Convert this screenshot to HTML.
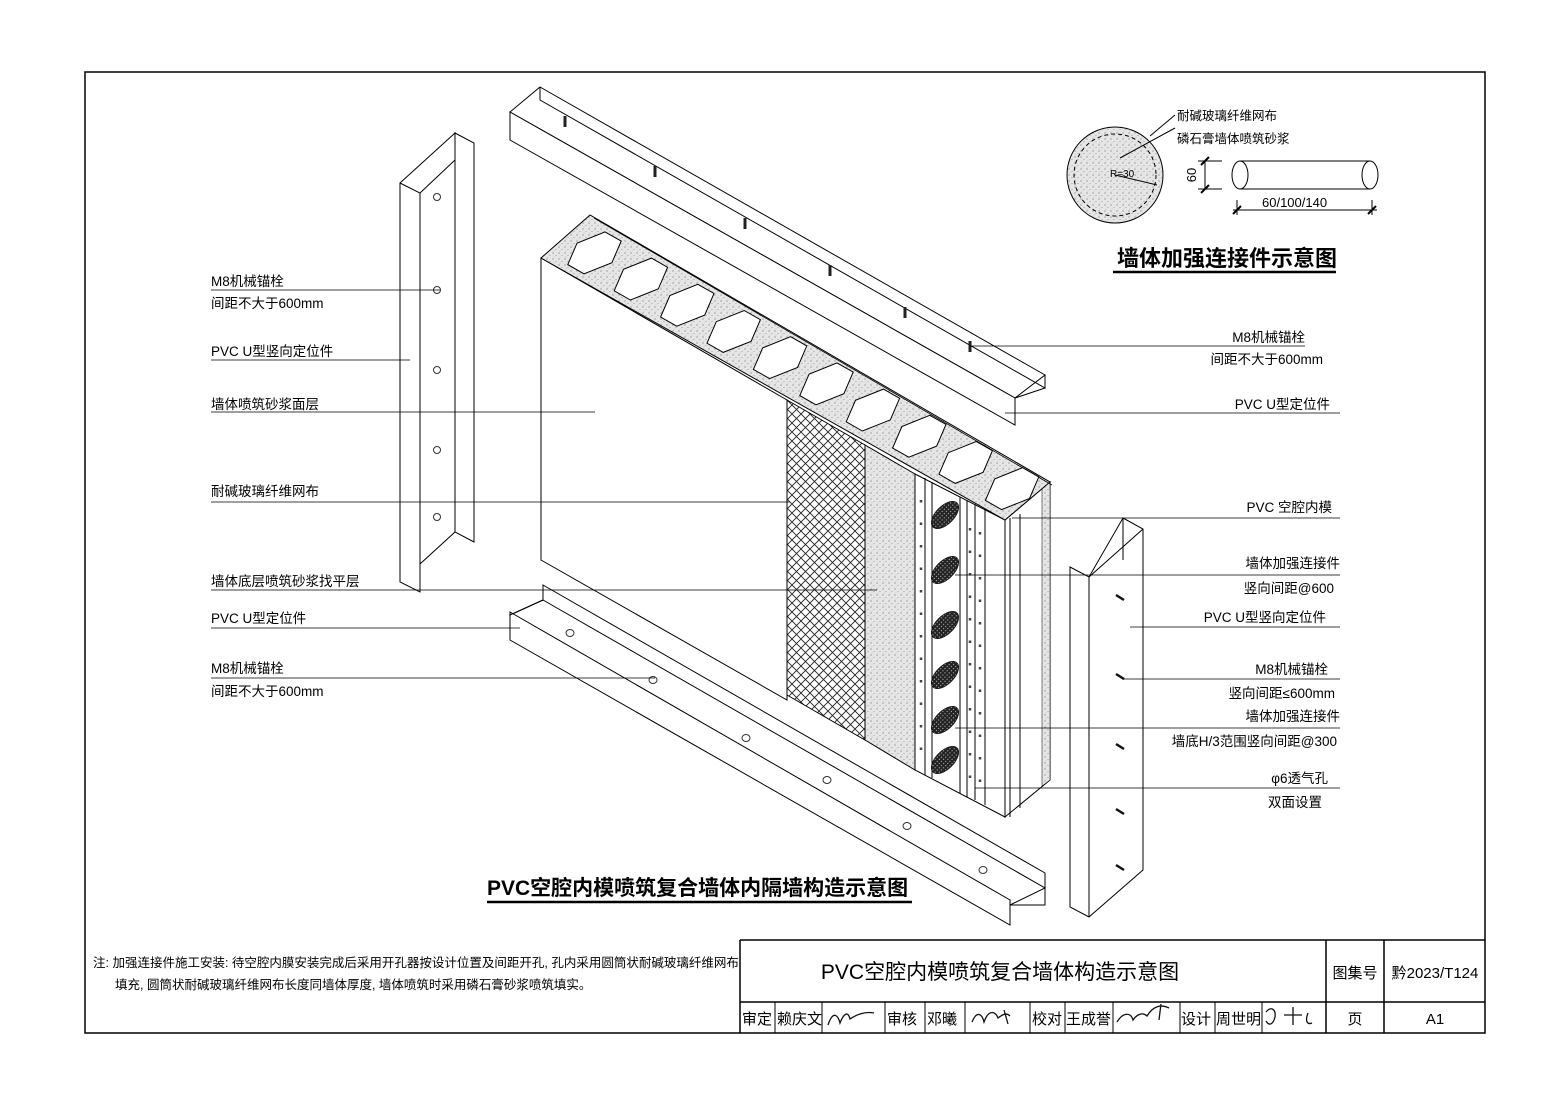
<!DOCTYPE html>
<html><head><meta charset="utf-8"><style>
html,body{margin:0;padding:0;background:#fff;}
svg{display:block;}
text{font-family:"Liberation Sans","Noto Sans CJK SC",sans-serif;fill:#000;}
</style></head><body>
<svg width="1541" height="1096" viewBox="0 0 1541 1096" xmlns="http://www.w3.org/2000/svg">
<defs>
<pattern id="spk" width="6" height="6" patternUnits="userSpaceOnUse">
<rect width="6" height="6" fill="#e6e6e6"/><circle cx="1" cy="1" r="0.6" fill="#777"/><circle cx="4" cy="3.5" r="0.5" fill="#888"/><circle cx="2" cy="5" r="0.4" fill="#999"/>
</pattern>
<pattern id="mesh" width="9" height="9" patternUnits="userSpaceOnUse">
<rect width="9" height="9" fill="#fff"/><path d="M0 0L9 9M9 0L0 9" stroke="#222" stroke-width="0.9"/>
</pattern>
<pattern id="coil" width="3" height="3" patternUnits="userSpaceOnUse">
<rect width="3" height="3" fill="#222"/><circle cx="1.5" cy="1.5" r="0.6" fill="#bbb"/>
</pattern>
</defs>
<g fill="none" stroke="#000" stroke-width="1">
<rect x="85" y="72" width="1400" height="961" stroke-width="1.5"/>
<path d="M740 940H1485M740 940V1033M740 1002H1485M1326 940V1033M1384 940V1033" stroke-width="1.5"/>
<path d="M775 1002V1033M822 1002V1033M885 1002V1033M925 1002V1033M965 1002V1033M1030 1002V1033M1065 1002V1033M1113 1002V1033M1180 1002V1033M1215 1002V1033M1262 1002V1033"/>
</g>

<!-- top U bar -->
<g fill="#fff" stroke="#000" stroke-width="1">
<polygon points="540,87 1045,375 1015,398 510,112"/>
<polygon points="510,112 1015,398 1015,425 510,140"/>
<path d="M540,87 L540,100 L1045,388 L1045,375" fill="none"/>
<path d="M1015,398 L1045,388" fill="none"/>
</g>
<g stroke="#222" stroke-width="3">
<path d="M565,116v11M655,166v11M745,218v11M830,265v11M905,307v11M970,341v11"/>
</g>

<!-- left vertical U -->
<g fill="#fff" stroke="#000" stroke-width="1">
<polygon points="455,133 474,143 474,542 455,532"/>
<polygon points="400,183 455,133 455,532 420,564 420,592 400,582"/>
<path d="M400,183 L420,193 L420,592 M420,193 L455,160" fill="none"/>
</g>
<g fill="#fff" stroke="#333" stroke-width="1">
<circle cx="437" cy="197" r="3.5"/><circle cx="437" cy="290" r="3.5"/><circle cx="437" cy="370" r="3.5"/><circle cx="437" cy="450" r="3.5"/><circle cx="437" cy="517" r="3.5"/>
</g>

<!-- wall -->
<g stroke="#000" stroke-width="1">
<polygon points="541,258 787,400 787,700 541,560" fill="#fff"/>
<polygon points="787,400 865,445 865,740 787,695" fill="url(#mesh)"/>
<polygon points="865,445 915,474 915,770 865,740" fill="url(#spk)"/>
<polygon points="915,474 1005,520 1005,817 915,770" fill="#fff"/>
<polygon points="1005,520 1050,482 1050,780 1005,817" fill="#fff"/>
<polygon points="1042,488 1050,482 1050,780 1042,786" fill="url(#spk)" stroke-width="0.5"/>
<polygon points="541,258 590,215 1050,482 1005,520" fill="url(#spk)"/>
<path d="M594,218 L1052,485" fill="none" stroke-width="0.8"/>
</g>
<g fill="#fff" stroke="#000" stroke-width="1">
<polygon id="c0" points="567.8,264.6 577.1,243.1 605,231.9 621.2,241.1 611.9,262.7 584,273.8"/>
<polygon points="567.8,264.6 577.1,243.1 605,231.9 621.2,241.1 611.9,262.7 584,273.8" transform="translate(46.4,26.2)"/>
<polygon points="567.8,264.6 577.1,243.1 605,231.9 621.2,241.1 611.9,262.7 584,273.8" transform="translate(92.8,52.4)"/>
<polygon points="567.8,264.6 577.1,243.1 605,231.9 621.2,241.1 611.9,262.7 584,273.8" transform="translate(139.2,78.6)"/>
<polygon points="567.8,264.6 577.1,243.1 605,231.9 621.2,241.1 611.9,262.7 584,273.8" transform="translate(185.6,104.8)"/>
<polygon points="567.8,264.6 577.1,243.1 605,231.9 621.2,241.1 611.9,262.7 584,273.8" transform="translate(232,131)"/>
<polygon points="567.8,264.6 577.1,243.1 605,231.9 621.2,241.1 611.9,262.7 584,273.8" transform="translate(278.4,157.2)"/>
<polygon points="567.8,264.6 577.1,243.1 605,231.9 621.2,241.1 611.9,262.7 584,273.8" transform="translate(324.8,183.4)"/>
<polygon points="567.8,264.6 577.1,243.1 605,231.9 621.2,241.1 611.9,262.7 584,273.8" transform="translate(371.2,209.6)"/>
<polygon points="567.8,264.6 577.1,243.1 605,231.9 621.2,241.1 611.9,262.7 584,273.8" transform="translate(417.6,235.8)"/>
</g>
<g fill="none" stroke="#000" stroke-width="1">
<path d="M925,478V775M932,482V778M960,497V793M967,500V797M975,504V800M985,509V805M1010,518V817M1020,514V808"/>
</g>
<g fill="none" stroke="#444" stroke-width="2.5" stroke-dasharray="2.5 20">
<path d="M921,500V770M970,528V795M980,532V800"/>
</g>
<g fill="url(#coil)" stroke="#111" stroke-width="0.8">
<ellipse cx="945" cy="515" rx="9" ry="17" transform="rotate(45 945 515)"/>
<ellipse cx="945" cy="570" rx="9" ry="17" transform="rotate(45 945 570)"/>
<ellipse cx="945" cy="625" rx="9" ry="17" transform="rotate(45 945 625)"/>
<ellipse cx="945" cy="675" rx="9" ry="17" transform="rotate(45 945 675)"/>
<ellipse cx="945" cy="720" rx="9" ry="17" transform="rotate(45 945 720)"/>
<ellipse cx="945" cy="760" rx="9" ry="17" transform="rotate(45 945 760)"/>
</g>

<!-- bottom U bar -->
<g fill="#fff" stroke="#000" stroke-width="1">
<polygon points="543,585 1045,873 1045,905 1010,905 510,615 543,600"/>
<polygon points="510,612 1010,900 1010,925 510,640"/>
<path d="M543,585 L543,600 L510,615 M543,600 L1045,888 L1010,905" fill="none"/>
</g>
<g fill="#fff" stroke="#333" stroke-width="1">
<ellipse cx="570" cy="633" rx="4" ry="3.5"/><ellipse cx="653" cy="680" rx="4" ry="3.5"/><ellipse cx="746" cy="738" rx="4" ry="3.5"/><ellipse cx="827" cy="780" rx="4" ry="3.5"/><ellipse cx="907" cy="826" rx="4" ry="3.5"/><ellipse cx="983" cy="870" rx="4" ry="3.5"/>
</g>

<!-- right vertical U -->
<g fill="#fff" stroke="#000" stroke-width="1">
<polygon points="1123,518 1143,529 1143,870 1089,917 1070,907 1070,567 1089,577"/>
<path d="M1089,577 L1089,917 M1089,577 L1143,529 M1123,518 L1123,560" fill="none"/>
</g>
<g stroke="#111" stroke-width="2.5">
<path d="M1116,595l8,5M1116,674l8,5M1116,744l8,5M1116,809l8,5M1116,865l8,5"/>
</g>

<!-- leader lines -->
<g stroke="#000" stroke-width="0.8" fill="none">
<path d="M211,290H440M211,360H410M211,412H595M211,502H790M211,590H877M211,628H520M211,678H655"/>
<path d="M970,346H1305M1005,413H1340M1012,518H1340M955,575H1340M1130,627H1340M1122,679H1340M955,728H1340M975,788H1340"/>
<path d="M1113,272H1336M487,902H912" stroke-width="2.5"/>
</g>

<!-- detail -->
<g fill="none" stroke="#000" stroke-width="1">
<circle cx="1115" cy="175" r="48" fill="url(#spk)"/>
<circle cx="1115" cy="175" r="41" stroke-dasharray="4 3"/>
<path d="M1115,175 L1157,185M1120,158L1175,128M1150,136L1175,115"/>
<path d="M1240,161H1370M1240,189H1370"/>
<ellipse cx="1240" cy="175" rx="8" ry="14"/><ellipse cx="1370" cy="175" rx="8" ry="14"/>
<path d="M1205,161V189M1198,161H1222M1198,189H1222M1233,210H1377M1237,200V215M1372,200V215"/>
<path d="M1201,165l8,-8M1201,193l8,-8M1233,214l8,-8M1368,214l8,-8" stroke-width="2"/>
</g>

<!-- text -->
<g font-size="13.5">
<text x="211" y="286">M8机械锚栓</text>
<text x="211" y="308">间距不大于600mm</text>
<text x="211" y="356">PVC U型竖向定位件</text>
<text x="211" y="409">墙体喷筑砂浆面层</text>
<text x="211" y="496">耐碱玻璃纤维网布</text>
<text x="211" y="586">墙体底层喷筑砂浆找平层</text>
<text x="211" y="623">PVC U型定位件</text>
<text x="211" y="673">M8机械锚栓</text>
<text x="211" y="696">间距不大于600mm</text>
</g>
<g font-size="13.5" text-anchor="end">
<text x="1305" y="342">M8机械锚栓</text>
<text x="1323" y="364">间距不大于600mm</text>
<text x="1330" y="409">PVC U型定位件</text>
<text x="1332" y="512">PVC 空腔内模</text>
<text x="1340" y="568">墙体加强连接件</text>
<text x="1334" y="593">竖向间距@600</text>
<text x="1326" y="622">PVC U型竖向定位件</text>
<text x="1328" y="674">M8机械锚栓</text>
<text x="1335" y="698">竖向间距≤600mm</text>
<text x="1340" y="721">墙体加强连接件</text>
<text x="1337" y="746">墙底H/3范围竖向间距@300</text>
<text x="1328" y="783">φ6透气孔</text>
<text x="1322" y="807">双面设置</text>
</g>
<g font-size="12.5">
<text x="1177" y="120">耐碱玻璃纤维网布</text>
<text x="1177" y="143">磷石膏墙体喷筑砂浆</text>
<text x="1110" y="177" font-size="10">R=30</text>
<text x="1262" y="207" font-size="13">60/100/140</text>
<text x="1196" y="175" font-size="13" transform="rotate(-90 1196 175)" text-anchor="middle">60</text>
</g>
<text x="1117" y="266" font-size="22" font-weight="bold">墙体加强连接件示意图</text>
<text x="487" y="895" font-size="21" font-weight="bold">PVC空腔内模喷筑复合墙体内隔墙构造示意图</text>
<g font-size="12.5">
<text x="93" y="967">注: 加强连接件施工安装: 待空腔内膜安装完成后采用开孔器按设计位置及间距开孔, 孔内采用圆筒状耐碱玻璃纤维网布</text>
<text x="115" y="989">填充, 圆筒状耐碱玻璃纤维网布长度同墙体厚度, 墙体喷筑时采用磷石膏砂浆喷筑填实。</text>
</g>
<text x="1000" y="979" font-size="21" text-anchor="middle">PVC空腔内模喷筑复合墙体构造示意图</text>
<text x="1355" y="978" font-size="15" text-anchor="middle">图集号</text>
<text x="1435" y="978" font-size="15" text-anchor="middle">黔2023/T124</text>
<g font-size="15">
<text x="742" y="1024">审定</text><text x="777" y="1024">赖庆文</text>
<text x="887" y="1024">审核</text><text x="927" y="1024">邓曦</text>
<text x="1032" y="1024">校对</text><text x="1066" y="1024">王成誉</text>
<text x="1181" y="1024">设计</text><text x="1216" y="1024">周世明</text>
<text x="1355" y="1024" text-anchor="middle">页</text>
<text x="1435" y="1024" text-anchor="middle" font-family="Liberation Serif,serif">A1</text>
</g>
<g fill="none" stroke="#111" stroke-width="1.3">
<path d="M828,1025c5,-15 10,-10 12,-2c4,-10 8,-12 10,-4c6,-4 14,-8 24,-6"/>
<path d="M972,1022c5,-12 10,-8 12,0c5,-14 12,-10 14,-4c4,-3 8,-6 12,-2m-6,-6l4,14"/>
<path d="M1117,1022c6,-10 14,-10 16,-2c4,-6 10,-8 14,-4c6,-10 14,-12 22,-8m-8,-4l-2,16"/>
<path d="M1266,1012c5,-6 10,-3 9,5c-2,8 -6,9 -9,4m18,-6h18m-9,-8v18m15,-12c-3,8 -1,12 4,10"/>
</g>
</svg>
</body></html>
